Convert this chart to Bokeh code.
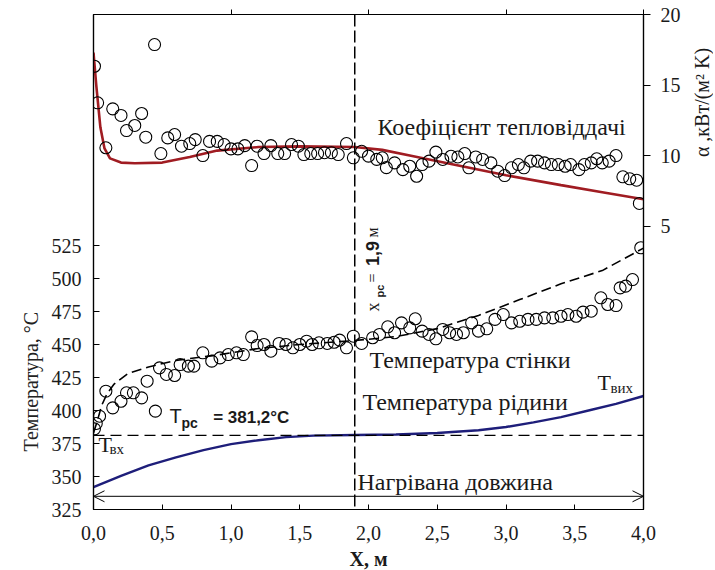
import numpy as np
from bokeh.plotting import figure
from bokeh.layouts import row
from bokeh.models import Range1d, LinearAxis, FixedTicker, Span, Label, Arrow, OpenHead, Title
from bokeh.embed import file_html
from bokeh.resources import INLINE

# ---------------- data ----------------
alpha_fit_x = [0.0, 0.02, 0.05, 0.08, 0.12, 0.2, 0.3, 0.5, 0.7, 0.9, 1.2, 1.5, 1.9,
               2.1, 2.3, 2.6, 3.0, 3.4, 3.7, 4.0]
alpha_fit_y = [17.3, 15.0, 12.0, 10.5, 9.8, 9.5, 9.45, 9.5, 9.9, 10.35, 10.6, 10.65, 10.6,
               10.4, 10.0, 9.4, 8.6, 7.9, 7.4, 6.9]
alpha_pts_x = [0.007, 0.03, 0.09, 0.14, 0.20, 0.24, 0.30, 0.35, 0.38, 0.444, 0.49, 0.54,
               0.59, 0.64, 0.70, 0.74, 0.795, 0.844, 0.90, 0.95, 1.00, 1.05, 1.10, 1.15,
               1.19, 1.24, 1.29, 1.34, 1.39, 1.44, 1.49, 1.53, 1.58, 1.63, 1.68, 1.73,
               1.78, 1.84, 1.89, 1.95, 2.00, 2.06, 2.10, 2.13, 2.19, 2.25, 2.30, 2.35,
               2.39, 2.44, 2.49, 2.54, 2.60, 2.65, 2.70, 2.73, 2.78, 2.83, 2.89, 2.94,
               2.99, 3.04, 3.09, 3.13, 3.18, 3.23, 3.28, 3.33, 3.38, 3.43, 3.47, 3.53,
               3.57, 3.62, 3.66, 3.70, 3.75, 3.80, 3.85, 3.90, 3.95, 3.97]
alpha_pts_y = [16.33, 13.74, 10.55, 13.31, 12.84, 11.77, 12.13, 12.98, 11.30, 17.87, 10.14, 11.25,
               11.49, 10.66, 10.85, 11.13, 10.0, 11.0, 11.0, 10.78, 10.47, 10.47, 10.70, 9.29,
               10.66, 10.14, 10.70, 10.14, 10.14, 10.78, 10.66, 10.07, 10.14, 10.14, 10.20, 10.20,
               10.07, 10.85, 9.84, 10.30, 9.96, 9.73, 9.84, 9.14, 9.48, 9.00, 9.24, 8.53,
               9.36, 9.60, 10.24, 9.72, 9.95, 9.90, 10.14, 9.13, 9.90, 9.72, 9.48, 8.89,
               8.58, 9.13, 9.36, 9.13, 9.60, 9.60, 9.48, 9.36, 9.36, 9.24, 9.36, 9.00,
               9.36, 9.48, 9.77, 9.48, 9.60, 10.00, 8.49, 8.35, 8.25, 6.60]
tw_pts_x = [0.007, 0.02, 0.044, 0.09, 0.14, 0.20, 0.24, 0.29, 0.35, 0.39, 0.45, 0.48,
            0.53, 0.59, 0.63, 0.69, 0.73, 0.795, 0.86, 0.92, 0.98, 1.04, 1.09, 1.15,
            1.19, 1.24, 1.29, 1.35, 1.40, 1.45, 1.50, 1.55, 1.59, 1.64, 1.70, 1.75,
            1.79, 1.84, 1.89, 1.95, 2.03, 2.08, 2.14, 2.19, 2.24, 2.30, 2.34, 2.39,
            2.44, 2.49, 2.54, 2.59, 2.64, 2.69, 2.75, 2.80, 2.86, 2.92, 2.98, 3.04,
            3.10, 3.16, 3.22, 3.28, 3.34, 3.40, 3.45, 3.51, 3.56, 3.62, 3.69, 3.74,
            3.80, 3.83, 3.87, 3.92, 3.98]
tw_pts_y = [386.1, 390.2, 395.7, 414.6, 402.0, 407.0, 413.4, 413.4, 409.6, 422.2, 399.5, 432.3,
            427.3, 426.5, 434.8, 433.6, 433.6, 443.7, 437.4, 439.9, 442.4, 443.7, 442.4, 455.8,
            449.2, 450.0, 444.9, 450.8, 450.0, 447.5, 450.0, 452.5, 450.0, 451.3, 450.8, 451.7,
            453.3, 447.5, 456.3, 450.8, 455.1, 457.6, 463.4, 458.9, 466.4, 462.6, 469.5, 460.1,
            457.6, 454.3, 461.4, 458.9, 457.6, 458.9, 466.4, 460.1, 461.9, 469.0, 472.7, 466.4,
            467.6, 469.0, 469.0, 470.2, 470.2, 471.4, 472.7, 471.4, 474.5, 475.2, 485.4, 480.3,
            479.5, 492.9, 494.2, 499.2, 523.3]
tw_fit_x = [0.0, 0.03, 0.06, 0.1, 0.15, 0.25, 0.4, 0.6, 0.9, 1.2, 1.5, 1.9,
            2.2, 2.5, 2.8, 3.1, 3.4, 3.7, 4.0]
tw_fit_y = [383, 393, 404, 413, 420, 428, 433, 438, 442, 447, 450, 453,
            456, 462, 472, 484, 496, 506, 523]
tf_x = [0.0, 0.2, 0.4, 0.6, 0.8, 1.0, 1.2, 1.4, 1.6, 1.9, 2.2, 2.5, 2.8, 3.0,
        3.2, 3.4, 3.6, 3.8, 4.0]
tf_y = [342, 350.5, 358.5, 364.5, 370, 374.5, 377.5, 379.8, 381, 381.4, 381.8, 383, 385, 387.5,
        391, 395, 400, 405, 411]

x_pc = 1.9
T_pc = 381.2
heated_start = 0.0
heated_end = 4.0
heated_level = 335

x_ticks = [0.0, 0.5, 1.0, 1.5, 2.0, 2.5, 3.0, 3.5, 4.0]
x_tick_labels = ["0,0", "0,5", "1,0", "1,5", "2,0", "2,5", "3,0", "3,5", "4,0"]
t_ticks = [325, 350, 375, 400, 425, 450, 475, 500, 525]
a_ticks = [5, 10, 15, 20]
top_ticks = [1.0, 2.0, 3.0, 4.0]

# ---------------- figure ----------------
SERIF = "Liberation Serif"
SANS = "Liberation Sans"
RED = "#A01C22"
BLUE = "#1E1E7A"
TXT = "#1a1a1a"
T_RANGE = (325, 700)
A_RANGE = (-15.1, 20)

p = figure(frame_width=550, frame_height=495, output_backend="svg", toolbar_location=None,
           x_range=Range1d(0, 4.0), y_range=Range1d(*T_RANGE),
           min_border_left=93, min_border_right=46, min_border_top=14, min_border_bottom=56)
p.grid.visible = False
p.outline_line_color = "black"
p.outline_line_width = 1.2
p.background_fill_color = "white"
p.border_fill_color = "white"
p.extra_y_ranges = {"alpha": Range1d(*A_RANGE)}

xa = p.xaxis[0]
xa.ticker = FixedTicker(ticks=x_ticks)
xa.major_label_overrides = {t: l for t, l in zip(x_ticks, x_tick_labels)}
xa.major_tick_in = 5
xa.major_tick_out = 0
xa.minor_tick_line_color = None
xa.major_label_standoff = 16
xa.major_label_text_font = SERIF
xa.major_label_text_font_size = "20px"
xa.major_label_text_color = TXT
xa.axis_line_color = "black"
xa.axis_line_width = 1.2
xa.axis_label = "X, м"
xa.axis_label_standoff = 5
xa.axis_label_text_font = SERIF
xa.axis_label_text_font_size = "20px"
xa.axis_label_text_font_style = "bold"
xa.axis_label_text_color = TXT

ya = p.yaxis[0]
ya.ticker = FixedTicker(ticks=t_ticks)
ya.major_tick_in = 6
ya.major_tick_out = 0
ya.minor_tick_line_color = None
ya.major_label_standoff = 12
ya.major_label_text_font = SERIF
ya.major_label_text_font_size = "20px"
ya.major_label_text_color = TXT
ya.axis_line_color = "black"
ya.axis_line_width = 1.2

ra = LinearAxis(y_range_name="alpha", ticker=FixedTicker(ticks=a_ticks))
ra.major_tick_in = 0
ra.major_tick_out = 7
ra.minor_tick_line_color = None
ra.major_label_standoff = 10
ra.major_label_text_font = SERIF
ra.major_label_text_font_size = "20px"
ra.major_label_text_color = TXT
ra.axis_line_color = "black"
ra.axis_line_width = 1.2
p.add_layout(ra, "right")

ta = LinearAxis(ticker=FixedTicker(ticks=top_ticks))
ta.major_tick_in = 0
ta.major_tick_out = 5
ta.minor_tick_line_color = None
ta.major_label_overrides = {t: "" for t in top_ticks}
ta.major_label_standoff = 0
ta.axis_line_color = "black"
ta.axis_line_width = 1.2
p.add_layout(ta, "above")

p.add_layout(Title(text="Температура, °C", align="left", offset=58, text_font=SERIF,
                   text_font_size="20px", text_font_style="normal", text_color="#222222",
                   standoff=13), "left")

p.add_layout(Span(location=x_pc, dimension="height", line_color="black",
                  line_dash="12 4", line_width=1.5))
p.add_layout(Span(location=T_pc, dimension="width", line_color="black",
                  line_dash="11 6", line_width=1.3))
p.add_layout(Arrow(x_start=heated_start, y_start=heated_level, x_end=heated_end, y_end=heated_level,
                   start=OpenHead(size=11, line_width=1), end=OpenHead(size=11, line_width=1),
                   line_width=1, line_color="black"))

p.line(alpha_fit_x, alpha_fit_y, y_range_name="alpha", line_color=RED, line_width=2.6)
p.line(tf_x, tf_y, line_color=BLUE, line_width=2.4)
p.line(tw_fit_x, tw_fit_y, line_color="black", line_width=1.6, line_dash="10 5")

p.scatter(alpha_pts_x, alpha_pts_y, y_range_name="alpha", marker="circle", size=12,
          fill_color=None, line_color="black", line_width=1.1)
p.scatter(tw_pts_x, tw_pts_y, marker="circle", size=12,
          fill_color=None, line_color="black", line_width=1.1)


def lab(fig, x, y, text, font=SERIF, size="24px", style="normal", align="left",
        baseline="middle", angle=0.0, x_offset=0, y_offset=0, color=TXT, y_range_name="default"):
    fig.add_layout(Label(x=x, y=y, text=text, text_font=font, text_font_size=size,
                         text_font_style=style, text_align=align, text_baseline=baseline,
                         angle=angle, x_offset=x_offset, y_offset=y_offset, text_color=color,
                         y_range_name=y_range_name))


lab(p, 2.065, 614.4, "Коефіцієнт тепловіддачі")
lab(p, 2.007, 438.6, "Температура  стінки")
lab(p, 1.956, 406.1, "Температура рідини")
lab(p, 1.92, 345.5, "Нагрівана довжина")
lab(p, 3.665, 421.2, "T", size="22px")
lab(p, 3.76, 416.7, "вих", size="15px")
lab(p, 0.036, 374.2, "T", size="22px")
lab(p, 0.116, 371.2, "вх", size="15px")
lab(p, 0.553, 395.5, "T", font=SANS, size="20px")
lab(p, 0.64, 390.2, "рс", font=SANS, size="14px", style="bold")
lab(p, 0.87, 394.7, "= 381,2°C", font=SANS, size="17px", style="bold")

A = np.pi / 2
lab(p, x_pc, 475.0, "x", size="18px", angle=A, x_offset=18)
lab(p, x_pc, 485.6, "рс", font=SANS, size="11px", style="bold", angle=A, x_offset=25)
lab(p, x_pc, 497.0, "=", size="16px", angle=A, x_offset=18)
lab(p, x_pc, 509.5, "1,9", font=SANS, size="18px", style="bold", angle=A, x_offset=18)
lab(p, x_pc, 531.1, "м", size="16px", angle=A, x_offset=18)

# narrow strip on the right holding the alpha axis title (reads bottom to top)
q = figure(frame_width=24, frame_height=495, output_backend="svg", toolbar_location=None,
           x_range=Range1d(0, 1), y_range=Range1d(*A_RANGE), x_axis_type=None, y_axis_type=None,
           min_border_left=0, min_border_right=0, min_border_top=14, min_border_bottom=10)
q.grid.visible = False
q.outline_line_color = None
q.background_fill_color = "white"
q.border_fill_color = "white"
lab(q, 0.5, 13.76, "α ,кВт/(м² K)", size="20px", align="center", angle=A)

open("out.html", "w").write(file_html(row(p, q), INLINE))
